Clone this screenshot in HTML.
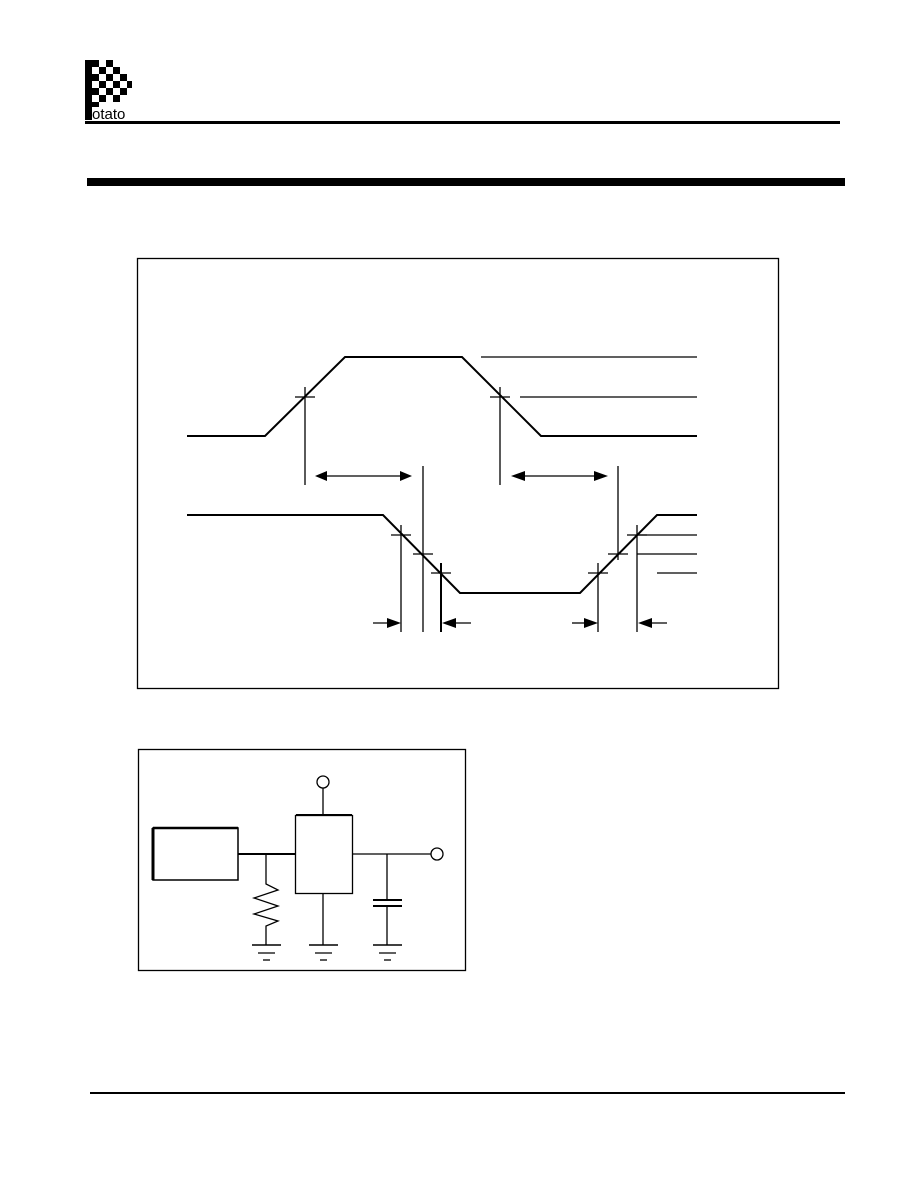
<!DOCTYPE html><html><head><style>body{margin:0;background:#fff}svg{display:block}</style></head><body>
<svg width="918" height="1188" viewBox="0 0 918 1188" xmlns="http://www.w3.org/2000/svg">
<g fill="#000">
<rect x="85" y="60" width="7" height="60"/>
<rect x="92" y="60" width="7" height="7"/><rect x="106" y="60" width="7" height="7"/>
<rect x="99" y="67" width="7" height="7"/><rect x="113" y="67" width="7" height="7"/>
<rect x="92" y="74" width="7" height="7"/><rect x="106" y="74" width="7" height="7"/><rect x="120" y="74" width="7" height="7"/>
<rect x="99" y="81" width="7" height="7"/><rect x="113" y="81" width="7" height="7"/><rect x="127" y="81" width="5" height="7"/>
<rect x="92" y="88" width="7" height="7"/><rect x="106" y="88" width="7" height="7"/><rect x="120" y="88" width="7" height="7"/>
<rect x="99" y="95" width="7" height="7"/><rect x="113" y="95" width="7" height="7"/>
<rect x="92" y="102" width="7" height="5"/>
</g>
<text x="92" y="119" font-family="Liberation Sans, sans-serif" font-size="15">otato</text>
<rect x="85" y="121" width="755" height="3" fill="#000"/>
<rect x="87" y="178" width="758" height="8" fill="#000"/>
<rect x="90" y="1092" width="755" height="2" fill="#000"/>
<g fill="none" stroke="#000" stroke-width="1.3">
<rect x="137.5" y="258.5" width="641" height="430"/>
<polyline stroke-width="2" points="187,436 265,436 345,357 462,357 541,436 697,436"/>
<line x1="481" y1="357" x2="697" y2="357"/><line x1="520" y1="397" x2="697" y2="397"/>
<line x1="295" y1="397" x2="315" y2="397"/><line x1="305" y1="387" x2="305" y2="485"/>
<line x1="490" y1="397" x2="510" y2="397"/><line x1="500" y1="387" x2="500" y2="485"/>
<line x1="325" y1="476" x2="402" y2="476"/><line x1="521" y1="476" x2="598" y2="476"/>
<line x1="423" y1="466" x2="423" y2="632"/><line x1="618" y1="466" x2="618" y2="560"/>
<polyline stroke-width="2" points="187,515 383,515 460,593 580,593 657,515 697,515"/>
<line x1="637" y1="535" x2="697" y2="535"/><line x1="637" y1="554" x2="697" y2="554"/><line x1="657" y1="573" x2="697" y2="573"/>
<line x1="391" y1="535" x2="411" y2="535"/><line x1="413" y1="554" x2="433" y2="554"/><line x1="431" y1="573" x2="451" y2="573"/>
<line x1="588" y1="573" x2="608" y2="573"/><line x1="608" y1="554" x2="628" y2="554"/><line x1="627" y1="535" x2="647" y2="535"/>
<line x1="401" y1="525" x2="401" y2="632"/><line x1="441" y1="563" x2="441" y2="632" stroke-width="2"/>
<line x1="598" y1="563" x2="598" y2="632"/><line x1="637" y1="525" x2="637" y2="632"/>
<line x1="373" y1="623" x2="390" y2="623"/><line x1="452" y1="623" x2="471" y2="623"/>
<line x1="572" y1="623" x2="587" y2="623"/><line x1="648" y1="623" x2="667" y2="623"/>
</g>
<g fill="#000">
<polygon points="315,476 327,471 327,481"/><polygon points="412,476 400,471 400,481"/>
<polygon points="511,476 525,471 525,481"/><polygon points="608,476 594,471 594,481"/>
<polygon points="401,623 387,618 387,628"/><polygon points="442,623 456,618 456,628"/>
<polygon points="598,623 584,618 584,628"/><polygon points="638,623 652,618 652,628"/>
</g>
<g fill="none" stroke="#000" stroke-width="1.3">
<rect x="138.5" y="749.5" width="327" height="221"/>
<rect x="153" y="828" width="85" height="52" stroke-width="1.5"/>
<line x1="153" y1="828" x2="153" y2="880" stroke-width="3"/><line x1="153" y1="828" x2="238" y2="828" stroke-width="2.5"/>
<line x1="238" y1="854" x2="295" y2="854" stroke-width="2"/>
<rect x="295.5" y="815.5" width="57" height="78"/>
<line x1="296" y1="815" x2="352" y2="815" stroke-width="2"/>
<line x1="323" y1="815" x2="323" y2="788"/><circle cx="323" cy="782" r="6" fill="#fff"/>
<line x1="352" y1="854" x2="431" y2="854"/><circle cx="437" cy="854" r="6" fill="#fff"/>
<polyline points="266,854 266,884 278,890 254,898 278,906 254,914 278,921 266,926 266,945"/>
<line x1="323" y1="893" x2="323" y2="945"/>
<line x1="387" y1="854" x2="387" y2="900"/><line x1="373" y1="900" x2="402" y2="900" stroke-width="2"/>
<line x1="373" y1="906" x2="402" y2="906" stroke-width="2"/><line x1="387" y1="906" x2="387" y2="945"/>
<g id="g"><line x1="252" y1="945" x2="281" y2="945" stroke-width="1.6"/><line x1="258" y1="953" x2="275" y2="953"/><line x1="263" y1="960" x2="270" y2="960"/></g>
<use href="#g" x="57"/><use href="#g" x="121"/>
</g>
</svg>
</body></html>
